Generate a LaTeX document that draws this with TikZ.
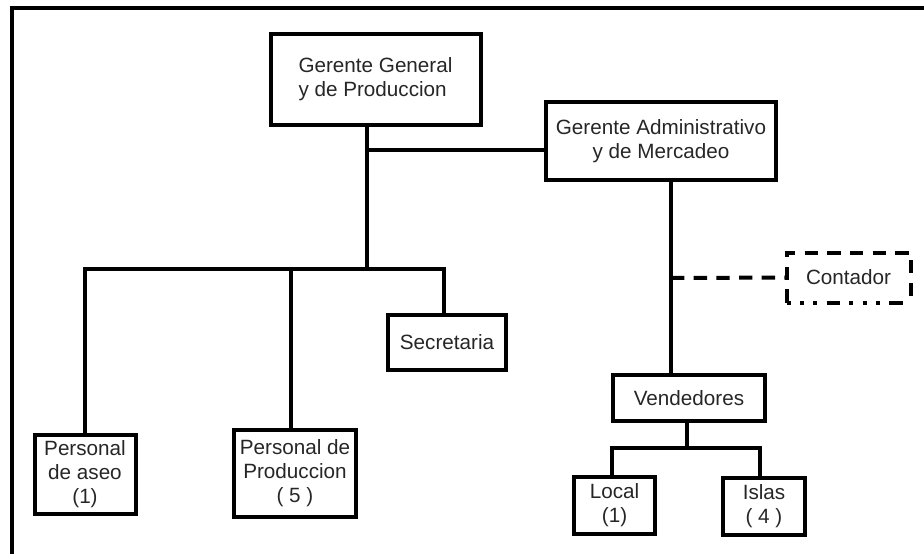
\documentclass[tikz,border=0pt]{standalone}
\usepackage{fontspec}
\setmainfont{Liberation Sans}
\begin{document}
\begin{tikzpicture}[x=0.75pt,y=-0.75pt,
  ln/.style={line width=3pt},
  bx/.style 2 args={draw,line width=3pt,inner sep=0pt,align=center,
     minimum width=#1*0.75pt,minimum height=#2*0.75pt,
     font=\fontsize{15.5pt}{18pt}\selectfont,text=black!85},
  dsh/.style={line width=3pt,dash pattern=on 10pt off 7pt}
]
\useasboundingbox (0,0) rectangle (924,553);
% frame
\draw[ln,line width=2.6pt] (12,560) -- (12,8) -- (930,8);

% nodes
\node[bx={210}{91},align=left] (GG) at (375.5,79.5) {Gerente General\\y de Produccion};
\node[bx={230}{78}] (GA) at (661,141) {Gerente Administrativo\\y de Mercadeo};
\node[bx={120}{46},draw=none] (Cont) at (848.5,277.5) {Contador};
\node[bx={118}{55}] (Sec) at (447,342.5) {Secretaria};
\node[bx={101}{79}] (Aseo) at (85,474.5) {Personal\\de aseo\\(1)};
\node[bx={122}{87}] (Prod) at (295,473.5) {Personal de\\Produccion\\( 5 )};
\node[bx={152}{46}] (Vend) at (689,398) {Vendedores};
\node[bx={81}{57}] (Local) at (614.5,505.5) {Local\\(1)};
\node[bx={82}{57}] (Islas) at (764,506.5) {Islas\\( 4 )};

% junctions
\coordinate (j1) at (367,269);
\coordinate (jGA) at (367,150);
\coordinate (jV) at (671,278);
\coordinate (jL) at (687,448);

% Contador dashed box
\draw[dsh] (Cont.south west) -- (Cont.north west) -- (Cont.north east) -- (Cont.south east);
\draw[line width=3pt,dash pattern=on 3pt off 7pt on 3pt off 7pt on 3pt off 7pt on 10pt off 7pt]
  (Cont.south west) -- (Cont.south east);

% connectors
\draw[ln] (GG.south -| j1) -- (j1);
\draw[ln] (jGA) -- (jGA -| GA.west);
\draw[ln] (Aseo.north) |- ([xshift=-2.25pt]Sec.north |- j1) -- ([xshift=-2.25pt]Sec.north);
\draw[ln] ([xshift=-3pt]Prod.north) -- ([xshift=-3pt]Prod.north |- j1);
\draw[ln] (GA.south -| jV) -- (Vend.north -| jV);
\draw[dsh] (jV) -- (Cont.west);
\draw[ln] (Vend.south -| jL) -- (jL);
\draw[ln] ([xshift=-2pt]Local.north) |- (jL) -| ([xshift=-3pt]Islas.north);
\end{tikzpicture}
\end{document}
